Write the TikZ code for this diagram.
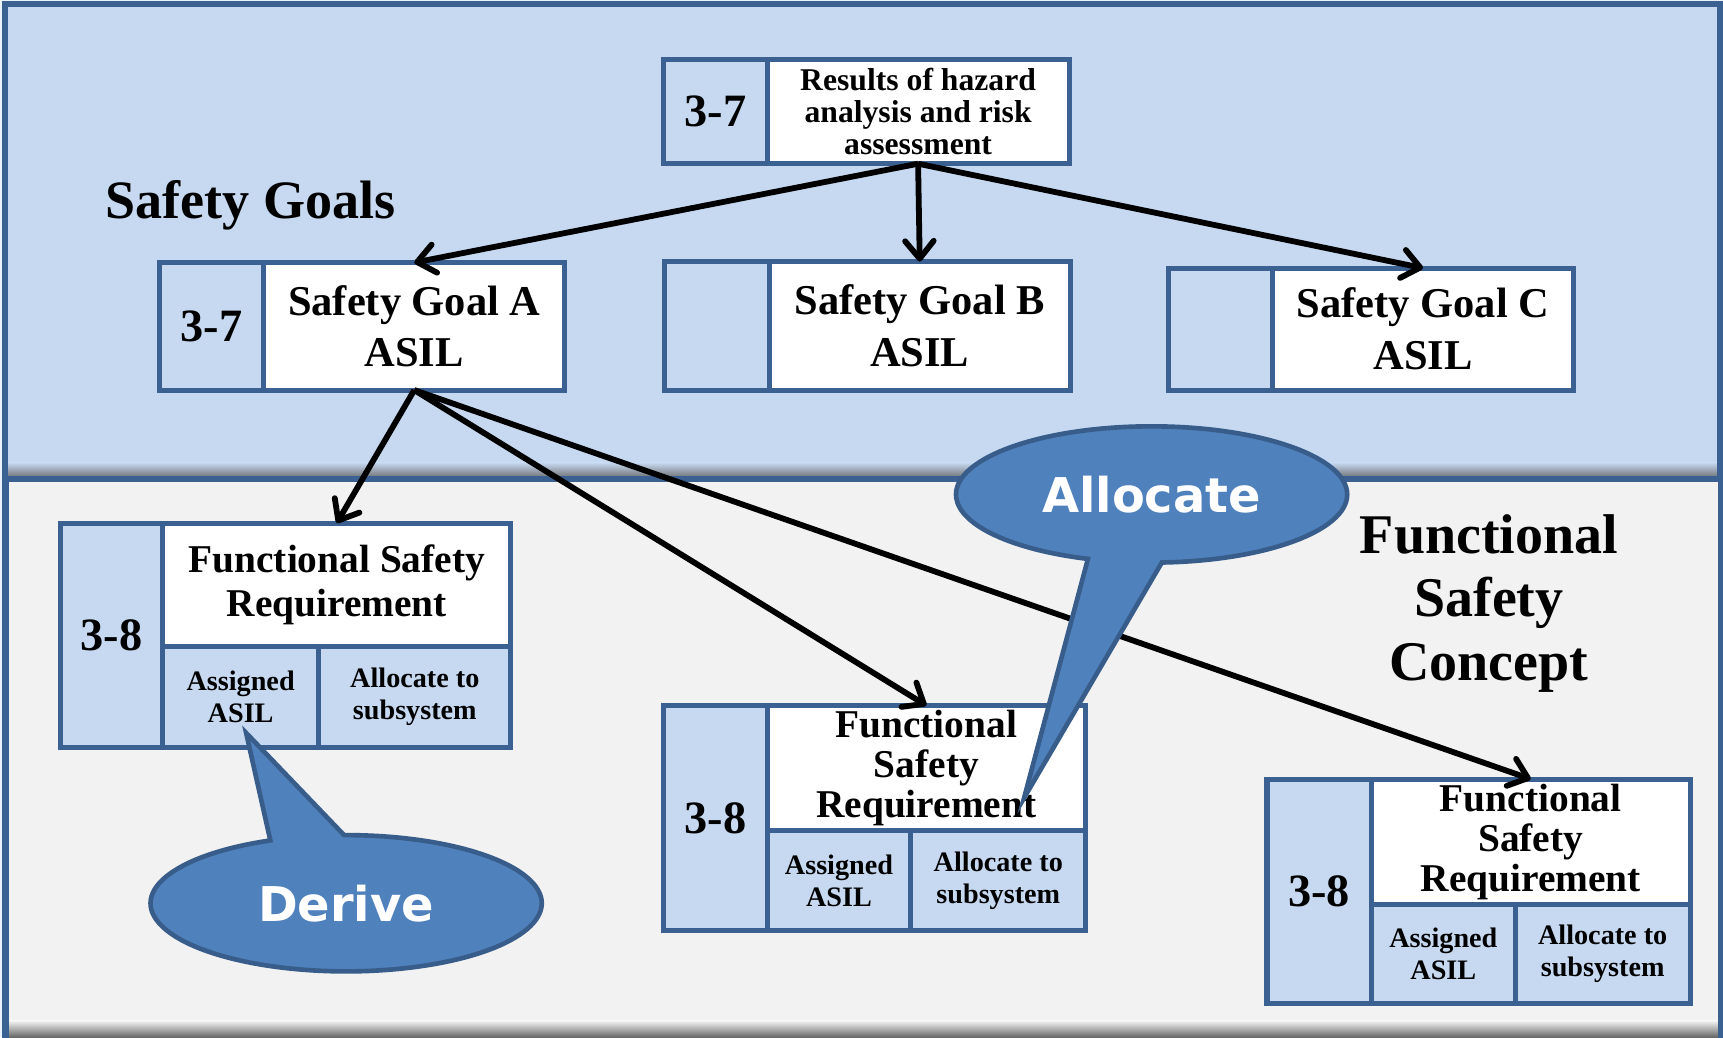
\documentclass[tikz,border=0pt]{standalone}
\usepackage{fontspec}
\setmainfont{Liberation Serif}
\newfontfamily\calloutfont{DejaVu Sans}
\usetikzlibrary{positioning,arrows.meta}

\definecolor{panelblue}{HTML}{C6D9F1}
\definecolor{framecol}{HTML}{3A6192}
\definecolor{calloutcol}{HTML}{4F81BD}
\definecolor{calloutline}{HTML}{385D8A}
\definecolor{panelgrey}{HTML}{F2F2F2}
\definecolor{pagecol}{HTML}{EAF2FA}

\begin{document}
\begin{tikzpicture}[font=\bfseries,
  cell/.style={draw=framecol,line width=1.3pt,inner sep=0pt,outer sep=0pt,align=center},
  numcell/.style={cell,fill=panelblue,font=\bfseries\fontsize{12}{14}\selectfont},
  goalcell/.style={cell,fill=white,font=\bfseries\fontsize{11}{13.4}\selectfont},
  reqcell/.style={cell,fill=white,font=\bfseries\fontsize{10.2}{10.4}\selectfont},
  subcell/.style={cell,fill=panelblue,font=\bfseries\fontsize{7.3}{8.25}\selectfont},
  link/.style={line width=1.5pt,-{Straight Barb[length=1.6mm,width=2.6mm,round]}},
  callout/.style={fill=calloutcol,draw=calloutline,line width=1.2pt},
  callouttext/.style={text=white,font=\calloutfont\bfseries\fontsize{12.4}{14}\selectfont}]

\fill[pagecol] (0,0) rectangle (15.68,9.44);
\useasboundingbox (0,0) rectangle (15.68,9.44);

% lower panel
\fill[panelgrey] (0.05,-0.1) rectangle (15.66,5.08);
\shade[top color=panelgrey,bottom color=black!60] (0.05,0) rectangle (15.66,0.15);
\draw[framecol,line width=1.6pt] (0.05,-0.1) rectangle (15.66,5.08);

% upper panel
\fill[panelblue] (0.045,5.08) rectangle (15.653,9.404);
\shade[top color=panelblue,bottom color=black!60] (0.045,5.08) rectangle (15.653,5.23);
\draw[framecol,line width=1.6pt] (0.045,5.08) rectangle (15.653,9.404);

\node[font=\bfseries\fontsize{14}{16}\selectfont] (sgtitle) at (2.28,7.57) {Safety Goals};
\node[align=center,font=\bfseries\fontsize{14.5}{16.5}\selectfont] (fsctitle) at (13.55,3.95) {Functional\\Safety\\Concept};

% hazard analysis
\node[numcell,minimum width=0.94cm,minimum height=0.95cm] (rhanum) at (6.51,8.425) {3-7};
\node[cell,fill=white,font=\bfseries\fontsize{8.2}{8.4}\selectfont,minimum width=2.75cm,minimum height=0.95cm,right=0pt of rhanum] (rha) {Results of hazard\\analysis and risk\\assessment};

% safety goals
\node[numcell,minimum width=0.95cm,minimum height=1.16cm] (goalanum) at (1.925,6.47) {3-7};
\node[goalcell,minimum width=2.74cm,minimum height=1.16cm,right=0pt of goalanum] (goala) {Safety Goal A\\ASIL};

\node[numcell,minimum width=0.95cm,minimum height=1.17cm] (goalbnum) at (6.525,6.475) {};
\node[goalcell,minimum width=2.74cm,minimum height=1.17cm,right=0pt of goalbnum] (goalb) {Safety Goal B\\ASIL};

\node[numcell,minimum width=0.95cm,minimum height=1.11cm] (goalcnum) at (11.105,6.445) {};
\node[goalcell,minimum width=2.74cm,minimum height=1.11cm,right=0pt of goalcnum] (goalc) {Safety Goal C\\ASIL};

% functional safety requirements
\node[numcell,minimum width=0.93cm,minimum height=2.04cm] (reqanum) at (1.015,3.66) {3-8};
\node[reqcell,font=\bfseries\fontsize{10.2}{11.4}\selectfont,minimum width=3.17cm,minimum height=1.12cm,anchor=north west] (reqa) at (reqanum.north east) {Functional Safety\\Requirement};
\node[subcell,minimum width=1.42cm,minimum height=0.92cm,anchor=north west] (reqaasil) at (reqa.south west) {Assigned\\ASIL};
\node[subcell,minimum width=1.75cm,minimum height=0.92cm,anchor=north west] (reqasub) at (reqaasil.north east) {Allocate to\\subsystem};

\node[numcell,minimum width=0.94cm,minimum height=2.05cm] (reqbnum) at (6.51,1.995) {3-8};
\node[reqcell,minimum width=2.90cm,minimum height=1.14cm,anchor=north west] (reqb) at (reqbnum.north east) {Functional\\Safety\\Requirement};
\node[subcell,minimum width=1.31cm,minimum height=0.91cm,anchor=north west] (reqbasil) at (reqb.south west) {Assigned\\ASIL};
\node[subcell,minimum width=1.59cm,minimum height=0.91cm,anchor=north west] (reqbsub) at (reqbasil.north east) {Allocate to\\subsystem};

\node[numcell,minimum width=0.95cm,minimum height=2.04cm] (reqcnum) at (12.005,1.33) {3-8};
\node[reqcell,minimum width=2.90cm,minimum height=1.14cm,anchor=north west] (reqc) at (reqcnum.north east) {Functional\\Safety\\Requirement};
\node[subcell,minimum width=1.31cm,minimum height=0.90cm,anchor=north west] (reqcasil) at (reqc.south west) {Assigned\\ASIL};
\node[subcell,minimum width=1.59cm,minimum height=0.90cm,anchor=north west] (reqcsub) at (reqcasil.north east) {Allocate to\\subsystem};

% links
\draw[link] (rha.south) -- (goala.north);
\draw[link] (rha.south) -- (goalb.north);
\draw[link] (rha.south) -- (goalc.north);
\draw[link] (goala.south) -- (reqa.north);
\draw[link] (goala.south) -- (reqb.north);
\draw[link] (goala.south) -- (reqc.north);

% callouts
\filldraw[callout] (10.48,4.94) ++(273:1.78 and 0.62) arc[start angle=273,end angle=611,x radius=1.78,y radius=0.62] -- (9.32,2.18) -- cycle;
\node[callouttext] (allocate) at (10.48,4.94) {Allocate};

\filldraw[callout] (3.15,1.22) ++(112.8:1.78 and 0.62) arc[start angle=112.8,end angle=450.6,x radius=1.78,y radius=0.62] -- (2.24,2.77) -- cycle;
\node[callouttext] (derive) at (3.15,1.22) {Derive};

\end{tikzpicture}
\end{document}
